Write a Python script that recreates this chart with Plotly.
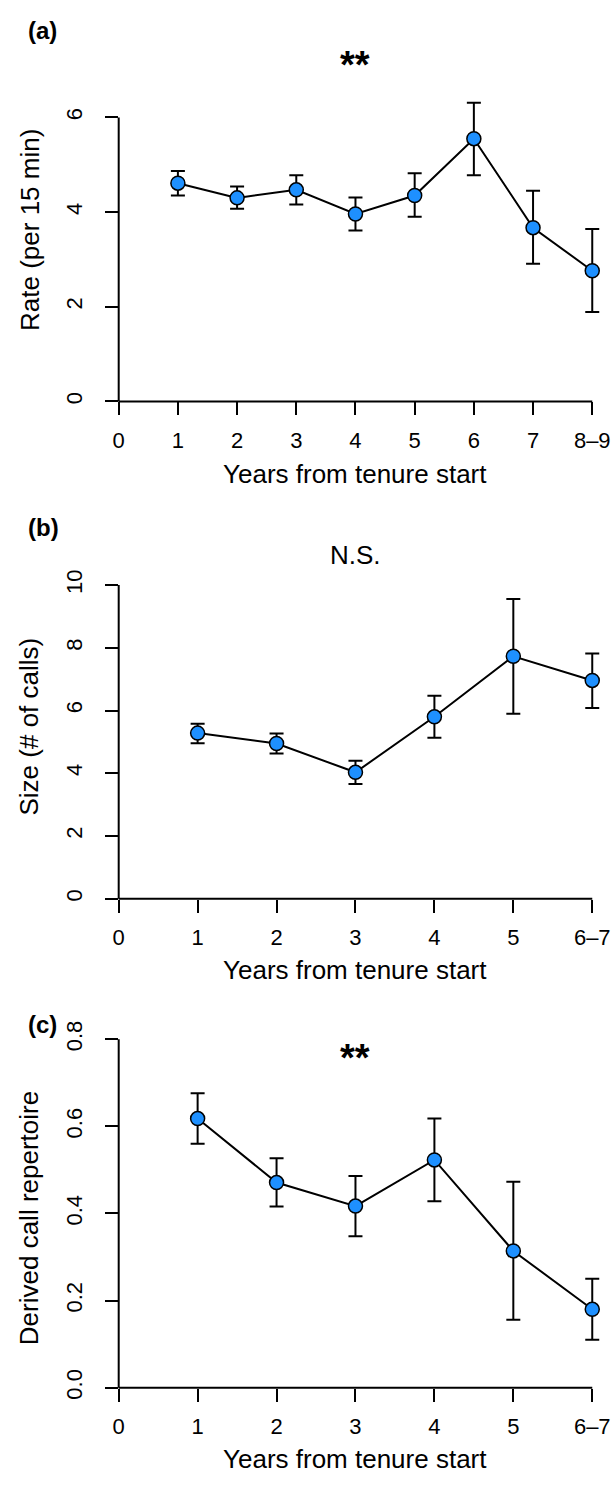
import plotly.graph_objects as go

# ---------------- data ----------------
rate_x_labels = ["0", "1", "2", "3", "4", "5", "6", "7", "8–9"]
rate_mean = [4.61, 4.30, 4.47, 3.96, 4.35, 5.55, 3.67, 2.76]
rate_lower = [4.35, 4.07, 4.16, 3.61, 3.90, 4.78, 2.91, 1.89]
rate_upper = [4.87, 4.54, 4.78, 4.31, 4.82, 6.31, 4.45, 3.64]
rate_yticks = [0, 2, 4, 6]

size_x_labels = ["0", "1", "2", "3", "4", "5", "6–7"]
size_mean = [5.28, 4.95, 4.03, 5.80, 7.73, 6.96]
size_lower = [4.96, 4.63, 3.66, 5.13, 5.90, 6.08]
size_upper = [5.58, 5.27, 4.40, 6.47, 9.56, 7.82]
size_yticks = [0, 2, 4, 6, 8, 10]

rep_x_labels = ["0", "1", "2", "3", "4", "5", "6–7"]
rep_mean = [0.618, 0.471, 0.417, 0.523, 0.314, 0.180]
rep_lower = [0.560, 0.416, 0.348, 0.428, 0.156, 0.110]
rep_upper = [0.676, 0.527, 0.486, 0.618, 0.473, 0.250]
rep_yticks = [0.0, 0.2, 0.4, 0.6, 0.8]
rep_ytick_text = ["0.0", "0.2", "0.4", "0.6", "0.8"]

panel_labels = ["(a)", "(b)", "(c)"]
panel_titles = ["**", "N.S.", "**"]
y_titles = ["Rate (per 15 min)", "Size (# of calls)", "Derived call repertoire"]
x_title = "Years from tenure start"

# ---------------- layout geometry (pixels) ----------------
W, H = 615, 1492
FONT = "Liberation Sans, Arial, Helvetica, sans-serif"
BLUE = "#1E90FF"

geom = [
    dict(x0=114, xppu=(593 - 114) / 8, y0=397.3, yppu=(397.3 - 109) / 6, xmax=8.3, ymax=6.7,
         title_y=56, label_y=21, ytitle_y=223, xtitle_y=471, title_size=38, title_bold=True),
    dict(x0=114, xppu=(593 - 114) / 6, y0=902, yppu=(902 - 583.7) / 10, xmax=6.22, ymax=10.25,
         title_y=553, label_y=525, ytitle_y=727, xtitle_y=974, title_size=26, title_bold=False),
    dict(x0=114, xppu=(593 - 114) / 6, y0=1398.3, yppu=(1398.3 - 1044.7) / 0.8, xmax=6.22, ymax=0.82,
         title_y=1064, label_y=1030, ytitle_y=1226, xtitle_y=1471, title_size=38, title_bold=True),
]

series = [
    (rate_x_labels, rate_mean, rate_lower, rate_upper, rate_yticks, [str(v) for v in rate_yticks]),
    (size_x_labels, size_mean, size_lower, size_upper, size_yticks, [str(v) for v in size_yticks]),
    (rep_x_labels, rep_mean, rep_lower, rep_upper, rep_yticks, rep_ytick_text),
]


def px(xp):
    return xp / W


def py(yp):
    return 1 - yp / H


fig = go.Figure()
shapes = []
annotations = []

for i, ((xlabels, mean, lower, upper, yticks, ytext), g) in enumerate(zip(series, geom)):
    n = i + 1
    xa = "x" if n == 1 else f"x{n}"
    ya = "y" if n == 1 else f"y{n}"
    xpos = list(range(1, len(mean) + 1))
    err_plus = [u - m for u, m in zip(upper, mean)]
    err_minus = [m - l for m, l in zip(mean, lower)]
    fig.add_trace(go.Scatter(
        x=xpos, y=mean, xaxis=xa, yaxis=ya, mode="lines+markers",
        line=dict(color="black", width=2),
        marker=dict(size=14, color=BLUE, line=dict(color="black", width=1.5)),
        error_y=dict(type="data", symmetric=False, array=err_plus, arrayminus=err_minus,
                     color="black", thickness=2, width=7),
        showlegend=False, hoverinfo="x+y",
    ))

    xdom = [px(g["x0"]), px(g["x0"] + g["xmax"] * g["xppu"])]
    ydom = [py(g["y0"]), py(g["y0"] - g["ymax"] * g["yppu"])]
    axis_common = dict(showline=False, showgrid=False, zeroline=False, ticks="outside",
                       ticklen=13, tickwidth=2, tickcolor="black",
                       tickfont=dict(family=FONT, size=22, color="black"), fixedrange=True)
    xkey = "xaxis" if n == 1 else f"xaxis{n}"
    ykey = "yaxis" if n == 1 else f"yaxis{n}"
    fig.update_layout(**{
        xkey: dict(domain=xdom, range=[0, g["xmax"]], anchor=ya, tickmode="array",
                   tickvals=list(range(len(xlabels))), ticktext=xlabels,
                   ticklabelstandoff=6, **axis_common),
        ykey: dict(domain=ydom, range=[0, g["ymax"]], anchor=xa, tickmode="array",
                   tickvals=yticks, ticktext=ytext, tickangle=-90,
                   ticklabelstandoff=14, **axis_common),
    })

    # R-style axis lines spanning first to last tick
    x_last = len(xlabels) - 1
    y_last = yticks[-1]
    shapes.append(dict(type="line", xref="paper", yref="paper",
                       x0=px(g["x0"]), x1=px(g["x0"] + x_last * g["xppu"]),
                       y0=py(g["y0"]), y1=py(g["y0"]), line=dict(color="black", width=2)))
    shapes.append(dict(type="line", xref="paper", yref="paper",
                       x0=px(g["x0"]), x1=px(g["x0"]),
                       y0=py(g["y0"]), y1=py(g["y0"] - y_last * g["yppu"]),
                       line=dict(color="black", width=2)))

    xc = g["x0"] + x_last * g["xppu"] / 2
    t = panel_titles[i]
    annotations.append(dict(text=f"<b>{t}</b>" if g["title_bold"] else t,
                            xref="paper", yref="paper", x=px(xc), y=py(g["title_y"]),
                            xanchor="center", yanchor="middle", showarrow=False,
                            font=dict(family=FONT, size=g["title_size"], color="black")))
    annotations.append(dict(text=f"<b>{panel_labels[i]}</b>", xref="paper", yref="paper",
                            x=px(20), y=py(g["label_y"]), xanchor="left", yanchor="middle",
                            showarrow=False, font=dict(family=FONT, size=24, color="black")))
    annotations.append(dict(text=x_title, xref="paper", yref="paper", x=px(xc), y=py(g["xtitle_y"]),
                            xanchor="center", yanchor="middle", showarrow=False,
                            font=dict(family=FONT, size=26, color="black")))
    annotations.append(dict(text=y_titles[i], xref="paper", yref="paper", x=px(23.5), y=py(g["ytitle_y"]),
                            xanchor="center", yanchor="middle", textangle=-90, showarrow=False,
                            font=dict(family=FONT, size=26, color="black")))

fig.update_layout(width=W, height=H, margin=dict(l=0, r=0, t=0, b=0),
                  paper_bgcolor="white", plot_bgcolor="white",
                  shapes=shapes, annotations=annotations, showlegend=False)

fig.write_html("out.html")
